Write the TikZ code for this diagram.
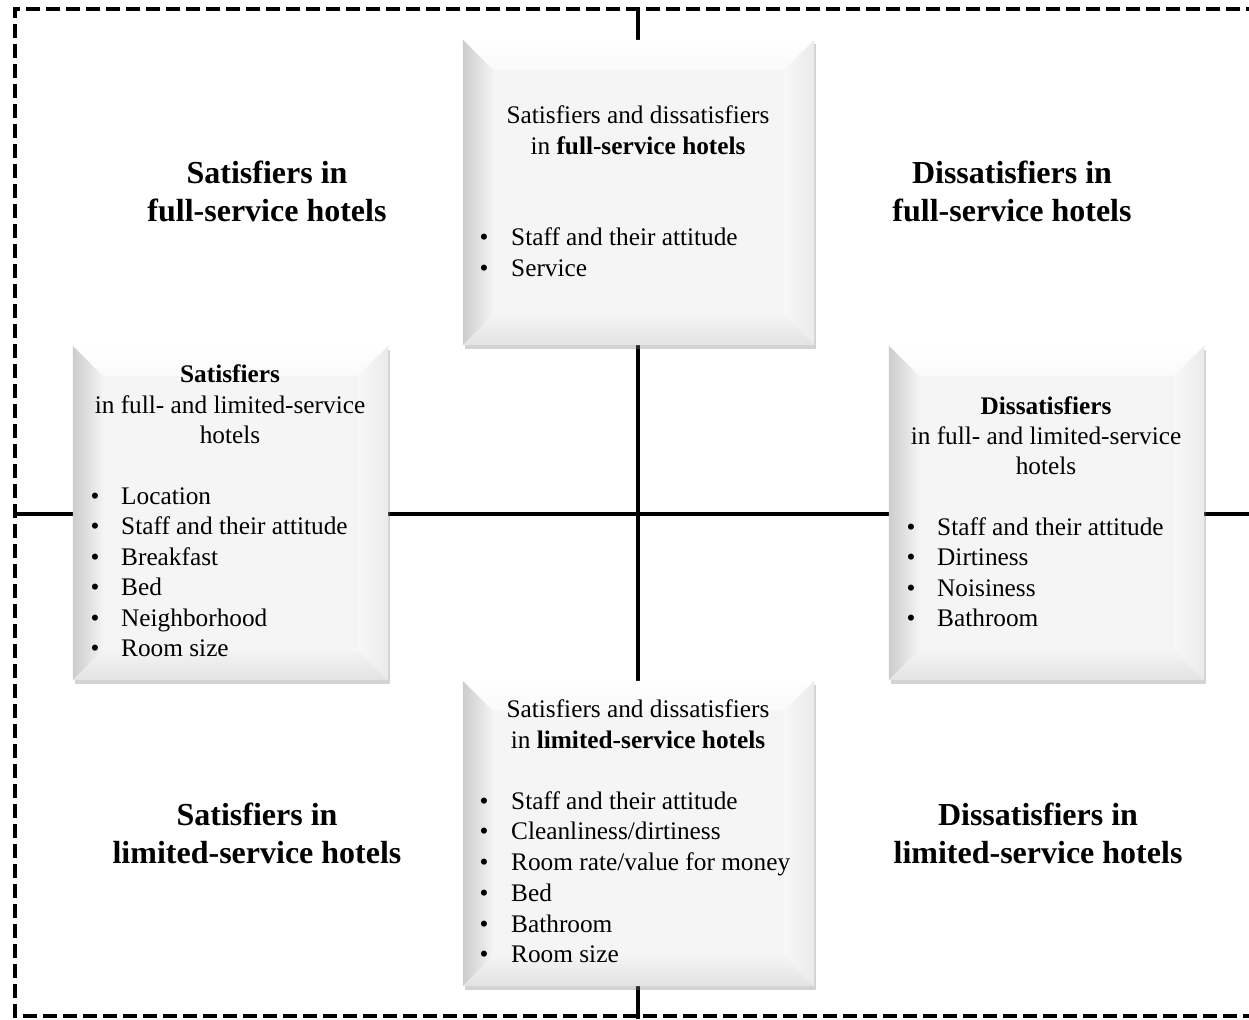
\documentclass[tikz,border=0pt]{standalone}
\usepackage{fontspec}
\setmainfont{Liberation Serif}
\usetikzlibrary{shadows,calc}
\newcommand\bevelfx[1]{%
  \fill[gray!8] (#1.north west) rectangle (#1.south east);
  \shade[top color=white, bottom color=gray!4] (#1.north west) -- (#1.north east) -- ($(#1.north east)+(-30,30)$) -- ($(#1.north west)+(30,30)$) -- cycle;
  \shade[left color=gray!40, right color=gray!9] (#1.north west) -- ($(#1.north west)+(30,30)$) -- ($(#1.south west)+(30,-30)$) -- (#1.south west) -- cycle;
  \shade[left color=gray!6, right color=gray!16] (#1.north east) -- ($(#1.north east)+(-30,30)$) -- ($(#1.south east)+(-30,-30)$) -- (#1.south east) -- cycle;
  \shade[top color=gray!9, bottom color=gray!22] (#1.south west) -- ($(#1.south west)+(30,-30)$) -- ($(#1.south east)+(-30,-30)$) -- (#1.south east) -- cycle;
}
\begin{document}
\begin{tikzpicture}[x=1pt,y=-1pt,
  axis/.style={line width=4pt},
  frame/.style={line width=3.5pt, dash pattern=on 14pt off 6pt},
  bbox/.style={inner sep=0pt, fill=gray!8, drop shadow={shadow xshift=2pt, shadow yshift=-4pt, opacity=0.35}},
  body/.style={font=\fontsize{25.3}{30}\selectfont, inner sep=0pt},
  item/.style={body, anchor=mid west},
  bul/.style={body, anchor=mid},
  head/.style={body, anchor=mid},
  quad/.style={font=\fontsize{32}{38}\selectfont\bfseries, inner sep=0pt, anchor=mid}]
\useasboundingbox (0,0) rectangle (1249,1019);
\clip (0,0) rectangle (1249,1019);
% frame
\draw[frame] (1260,9) -- (15,9) -- (15,1016) -- (1260,1016);
% axes
\coordinate (vt) at (638,9);
\coordinate (vb) at (638,1019);
\coordinate (hl) at (15,514);
\coordinate (hr) at (1249,514);
\draw[axis] (vt) -- (vb);
\draw[axis] (hl) -- (hr);
% boxes
\node[bbox, minimum width=351pt, minimum height=305pt] (topb) at (638.5,192.5) {};
\bevelfx{topb}
\node[bbox, minimum width=315pt, minimum height=334pt] (leftb) at (230.5,513) {};
\bevelfx{leftb}
\node[bbox, minimum width=315pt, minimum height=334pt] (rightb) at (1046.5,513) {};
\bevelfx{rightb}
\node[bbox, minimum width=351pt, minimum height=305pt] (botb) at (638.5,833.5) {};
\bevelfx{botb}
% quadrant labels
\node[quad] (q1a) at (267,181) {Satisfiers in};
\node[quad] (q1b) at (267,219) {full-service hotels};
\node[quad] (q2a) at (1012,181) {Dissatisfiers in};
\node[quad] (q2b) at (1012,219) {full-service hotels};
\node[quad] (q3a) at (257,823) {Satisfiers in};
\node[quad] (q3b) at (257,861) {limited-service hotels};
\node[quad] (q4a) at (1038,823) {Dissatisfiers in};
\node[quad] (q4b) at (1038,861) {limited-service hotels};
% top box
\node[head] (t1) at (638,121) {Satisfiers and dissatisfiers};
\node[head] (t2) at (638,152) {in \textbf{full-service hotels}};
\foreach \y/\t [count=\i] in {243/{Staff and their attitude},274/{Service}}{
  \node[bul] (tb\i) at (484,\y) {•};
  \node[item] (ti\i) at (511,\y) {\t};
}
% left box
\node[head] (l1) at (230,380) {\textbf{Satisfiers}};
\node[head] (l2) at (230,411) {in full- and limited-service};
\node[head] (l3) at (230,441) {hotels};
\foreach \y/\t [count=\i] in {502/{Location},532/{Staff and their attitude},563/{Breakfast},593/{Bed},624/{Neighborhood},654/{Room size}}{
  \node[bul] (lb\i) at (95,\y) {•};
  \node[item] (li\i) at (121,\y) {\t};
}
% right box
\node[head] (r1) at (1046,412) {\textbf{Dissatisfiers}};
\node[head] (r2) at (1046,442) {in full- and limited-service};
\node[head] (r3) at (1046,472) {hotels};
\foreach \y/\t [count=\i] in {533/{Staff and their attitude},563/{Dirtiness},594/{Noisiness},624/{Bathroom}}{
  \node[bul] (rb\i) at (911,\y) {•};
  \node[item] (ri\i) at (937,\y) {\t};
}
% bottom box
\node[head] (b1) at (638,715) {Satisfiers and dissatisfiers};
\node[head] (b2) at (638,746) {in \textbf{limited-service hotels}};
\foreach \y/\t [count=\i] in {807/{Staff and their attitude},837/{Cleanliness/dirtiness},868/{Room rate/value for money},899/{Bed},930/{Bathroom},960/{Room size}}{
  \node[bul] (bb\i) at (484,\y) {•};
  \node[item] (bi\i) at (511,\y) {\t};
}
\end{tikzpicture}
\end{document}
